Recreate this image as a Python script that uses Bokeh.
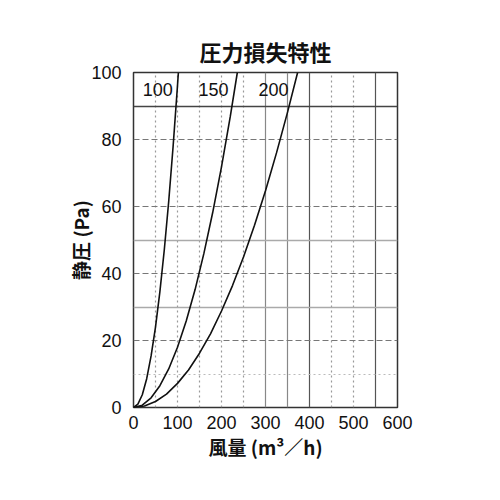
from bokeh.plotting import figure
from bokeh.models import Range1d, FixedTicker, Grid, ColumnDataSource
from bokeh.core.properties import value
from bokeh.embed import file_html
from bokeh.resources import INLINE

# Data
q100 = [0, 10, 20, 30, 40, 50, 60, 70, 80, 90, 100, 102]
p100 = [0, 1.0, 3.8, 8.6, 15.4, 24, 34.6, 47.1, 61.5, 77.9, 96.1, 100]
q150 = [0, 20, 40, 60, 80, 100, 120, 140, 160, 180, 200, 220, 236]
p150 = [0, 0.7, 2.9, 6.5, 11.5, 18, 25.9, 35.2, 46, 58.2, 71.8, 86.9, 100]
q200 = [0, 25, 50, 75, 100, 125, 150, 175, 200, 225, 250, 275, 300, 325, 350, 373]
p200 = [0, 0.45, 1.8, 4, 7.2, 11.2, 16.2, 22, 28.8, 36.4, 44.9, 54.4, 64.7, 76, 88.1, 100]

curve_labels = ["100", "150", "200"]
label_x = [55, 182, 318]
label_y = [95, 95, 95]

x_ticks = [0, 100, 200, 300, 400, 500, 600]
y_ticks = [0, 20, 40, 60, 80, 100]

v_solid_dark = [400, 550]
v_solid_mid = [300, 350]
v_dotted = [50, 100, 150, 200, 250, 450, 500]
h_solid_dark = [90]
h_solid_light = [30, 50]
h_dashed = [20, 40, 60, 80]
h_dotted = [10]

TITLE = "圧力損失特性"
XLABEL = "風量 (m³／h)"
YLABEL = "静圧 (Pa)"

CJK = "Noto Sans CJK JP"
NUM = "Liberation Sans"

p = figure(width=478, height=488, output_backend="svg", toolbar_location=None,
           x_range=Range1d(0, 600), y_range=Range1d(0, 100),
           min_border_left=133, min_border_right=81, min_border_top=72, min_border_bottom=81,
           title=TITLE)

p.title.text_font = CJK
p.title.text_font_size = "22px"
p.title.text_font_style = "bold"
p.title.align = "center"
p.title.text_color = "#111111"
p.title.standoff = 12

p.xgrid.visible = False
p.ygrid.visible = False

def add_grid(dim, ticks, color, width, dash):
    g = Grid(dimension=dim, ticker=FixedTicker(ticks=ticks),
             grid_line_color=color, grid_line_width=width, grid_line_dash=dash)
    p.add_layout(g)

add_grid(0, v_dotted, "#999999", 1.2, "2 3")
add_grid(0, v_solid_mid, "#888888", 1.2, "solid")
add_grid(0, v_solid_dark, "#555555", 1.2, "solid")
add_grid(1, h_dotted, "#bbbbbb", 1.2, "2 3")
add_grid(1, h_dashed, "#777777", 1.2, "6 3")
add_grid(1, h_solid_light, "#aaaaaa", 1.4, "solid")
add_grid(1, h_solid_dark, "#444444", 1.4, "solid")

p.outline_line_color = "#333333"
p.outline_line_width = 1.5

for ax in (p.xaxis[0], p.yaxis[0]):
    ax.major_tick_line_color = None
    ax.minor_tick_line_color = None
    ax.axis_line_color = None
    ax.major_label_text_font = NUM
    ax.major_label_text_font_size = "18px"
    ax.major_label_text_color = "#111111"
    ax.axis_label_text_font = CJK
    ax.axis_label_text_font_size = "19px"
    ax.axis_label_text_font_style = "bold"
    ax.axis_label_text_color = "#111111"

p.xaxis.ticker = FixedTicker(ticks=x_ticks)
p.yaxis.ticker = FixedTicker(ticks=y_ticks)
p.xaxis.major_label_standoff = 2
p.yaxis.major_label_standoff = 6
p.xaxis.axis_label = XLABEL
p.yaxis.axis_label = YLABEL
p.xaxis.axis_label_standoff = 1
p.yaxis.axis_label_standoff = -6

for qs, ps in ((q100, p100), (q150, p150), (q200, p200)):
    p.line(qs, ps, line_color="#111111", line_width=1.6)

src = ColumnDataSource(dict(x=label_x, y=label_y, t=curve_labels))
p.text(x="x", y="y", text="t", source=src, text_font=value(NUM), text_font_size="18px",
       text_align="center", text_baseline="middle", text_color="#111111")

open("out.html", "w").write(file_html(p, INLINE))
